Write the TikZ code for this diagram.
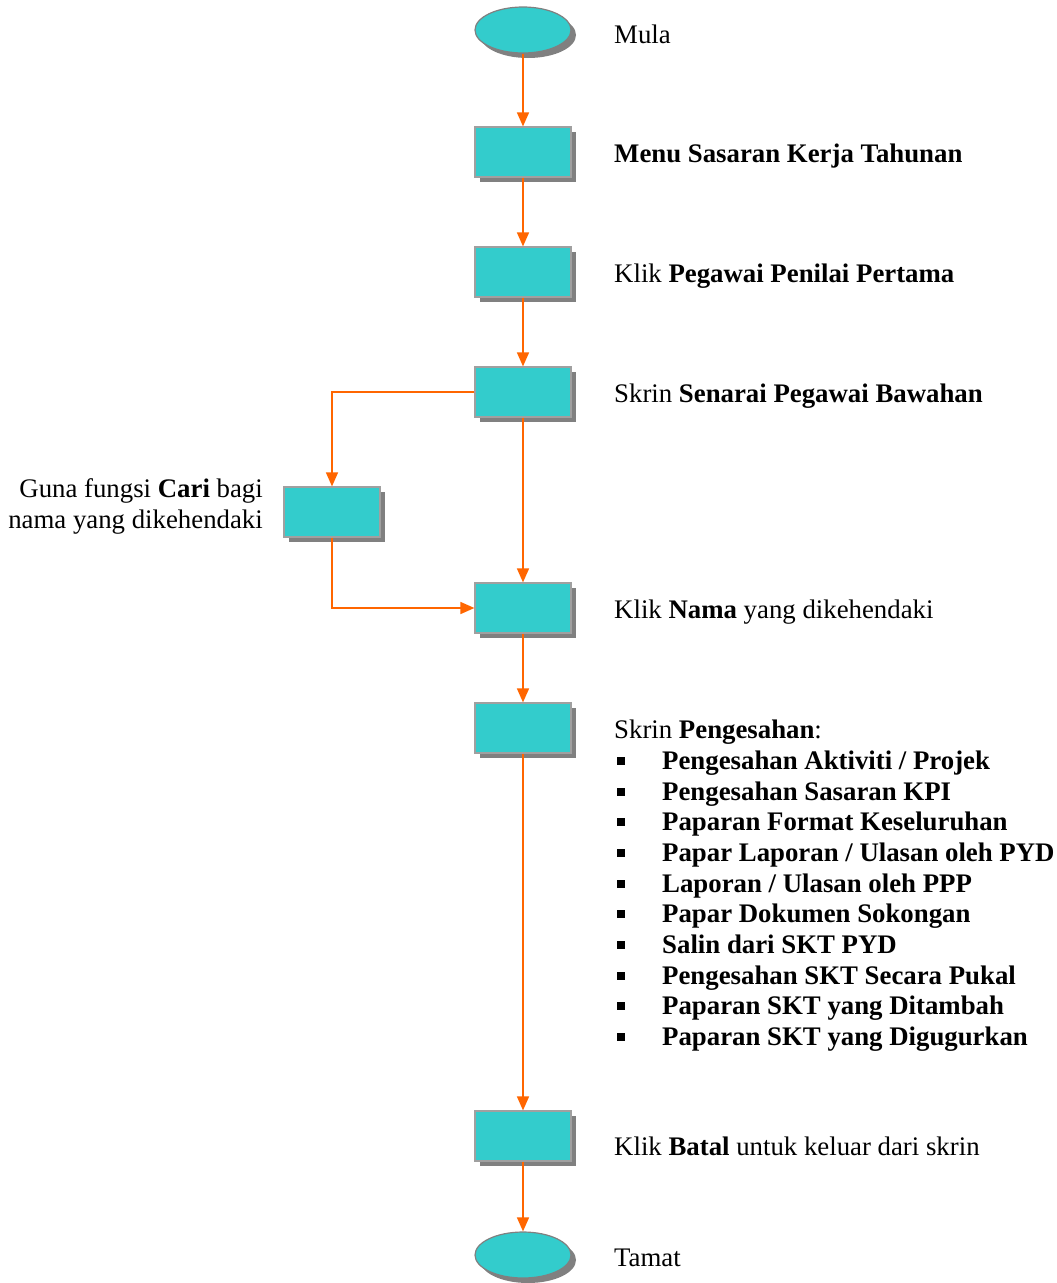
\documentclass[tikz,border=0pt]{standalone}
\usepackage{fontspec}
\setmainfont{Liberation Serif}
\usetikzlibrary{arrows.meta,shadows,shapes.geometric}
\definecolor{boxfill}{RGB}{51,204,204}
\definecolor{arr}{RGB}{255,102,0}
\definecolor{shad}{RGB}{128,128,128}
\definecolor{edge}{RGB}{160,160,160}
\tikzset{
  stepbox/.style={rectangle, minimum width=96pt, minimum height=50pt, inner sep=0pt,
    fill=boxfill, draw=edge, line width=1.2pt,
    drop shadow={shadow xshift=5pt, shadow yshift=-5pt, fill=shad, opacity=1}},
  termnode/.style={ellipse, minimum width=96pt, minimum height=46pt, inner sep=0pt,
    fill=boxfill, draw=edge!80!black, line width=1.2pt,
    drop shadow={shadow xshift=5pt, shadow yshift=-5pt, fill=shad, opacity=1}},
  flow/.style={draw=arr, line width=1.5pt, -{Triangle[width=12pt,length=14pt]}},
  lbl/.style={anchor=base west, inner sep=0pt, font=\fontsize{26.8}{31}\selectfont},
  itm/.style={anchor=base west, inner sep=0pt, font=\fontsize{26.8}{31}\selectfont\bfseries},
}
\newcommand{\bul}[1]{\fill (617,#1-4) rectangle (624.5,#1-12);}
\begin{document}
\begin{tikzpicture}[x=1pt,y=-1pt]
\useasboundingbox (0,0) rectangle (1057,1283);
\node[termnode] (start) at (523,30) {};
\node[stepbox] (b1) at (523,152) {};
\node[stepbox] (b2) at (523,272) {};
\node[stepbox] (b3) at (523,392) {};
\node[stepbox] (side) at (332,512) {};
\node[stepbox] (b4) at (523,608) {};
\node[stepbox] (b5) at (523,728) {};
\node[stepbox] (b6) at (523,1136) {};
\node[termnode] (end) at (523,1255) {};

\draw[flow] (start) -- (b1);
\draw[flow] (b1) -- (b2);
\draw[flow] (b2) -- (b3);
\draw[flow] (b3) -- (b4);
\draw[flow] (b3.west) -| (side.north);
\draw[flow] (side.south) |- (b4.west);
\draw[flow] (b4) -- (b5);
\draw[flow] (b5) -- (b6);
\draw[flow] (b6) -- (end);

\node[lbl] (t0) at (614,43) {Mula};
\node[lbl] (t1) at (614,162) {\textbf{Menu Sasaran Kerja Tahunan}};
\node[lbl] (t2) at (614,282) {Klik \textbf{Pegawai Penilai Pertama}};
\node[lbl] (t3) at (614,402) {Skrin \textbf{Senarai Pegawai Bawahan}};
\node[lbl, anchor=base east] (ts) at (263,497) {Guna fungsi \textbf{Cari} bagi};
\node[lbl, anchor=base east] (ts2) at (263,528) {nama yang dikehendaki};
\node[lbl] (t4) at (614,618) {Klik \textbf{Nama} yang dikehendaki};
\node[lbl] (t5) at (614,738) {Skrin \textbf{Pengesahan}:};
\node[itm] (i1) at (662,769) {Pengesahan Aktiviti / Projek};
\node[itm] (i2) at (662,800) {Pengesahan Sasaran KPI};
\node[itm] (i3) at (662,830) {Paparan Format Keseluruhan};
\node[itm] (i4) at (662,861) {Papar Laporan / Ulasan oleh PYD};
\node[itm] (i5) at (662,892) {Laporan / Ulasan oleh PPP};
\node[itm] (i6) at (662,922) {Papar Dokumen Sokongan};
\node[itm] (i7) at (662,953) {Salin dari SKT PYD};
\node[itm] (i8) at (662,984) {Pengesahan SKT Secara Pukal};
\node[itm] (i9) at (662,1014) {Paparan SKT yang Ditambah};
\node[itm] (i10) at (662,1045) {Paparan SKT yang Digugurkan};
\bul{769}\bul{800}\bul{830}\bul{861}\bul{892}\bul{922}\bul{953}\bul{984}\bul{1014}\bul{1045}
\node[lbl] (t6) at (614,1155) {Klik \textbf{Batal} untuk keluar dari skrin};
\node[lbl] (t7) at (614,1266) {Tamat};
\end{tikzpicture}
\end{document}
